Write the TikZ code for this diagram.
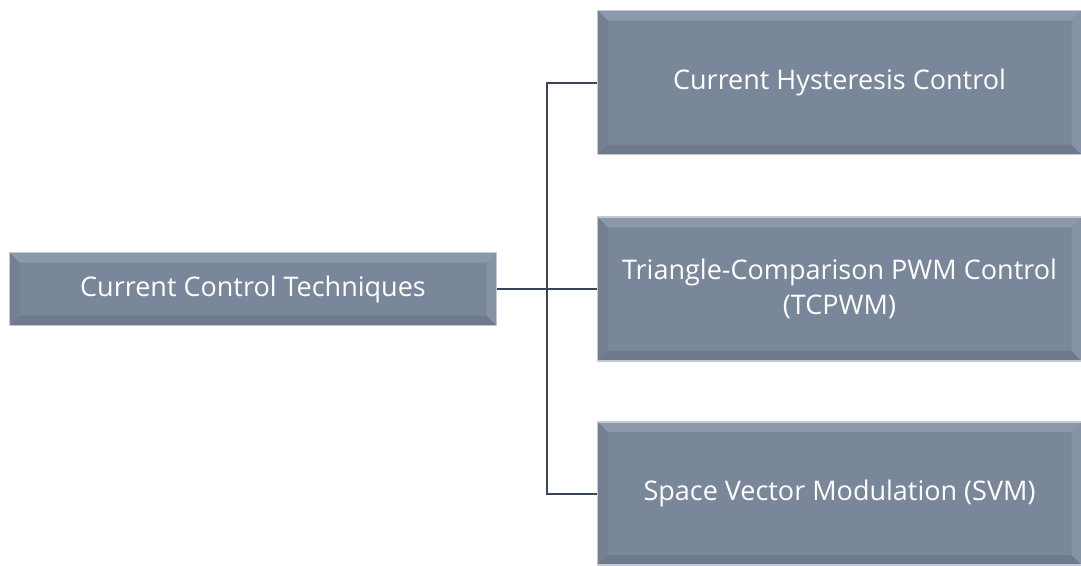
\documentclass[tikz,border=0pt]{standalone}
\usepackage{fontspec}
\setmainfont{Open Sans}
\definecolor{boxfill}{HTML}{7A8699}
\definecolor{bevtop}{HTML}{8C98AB}
\definecolor{bevright}{HTML}{8692A5}
\definecolor{bevleft}{HTML}{737F92}
\definecolor{bevbot}{HTML}{6E7A8C}
\definecolor{boxedge}{HTML}{C3C9D2}
\definecolor{linec}{HTML}{3B4558}
\tikzset{
  bevbox/.style={rectangle, fill=boxfill, draw=boxedge, line width=1.2pt, inner sep=0pt,
    text=white, font=\fontsize{27}{35}\selectfont, align=center,
    path picture={
      \fill[bevtop] (path picture bounding box.north west) -- (path picture bounding box.north east)
        -- ([shift={(-10pt,-10pt)}]path picture bounding box.north east) -- ([shift={(10pt,-10pt)}]path picture bounding box.north west) -- cycle;
      \fill[bevbot] (path picture bounding box.south west) -- (path picture bounding box.south east)
        -- ([shift={(-10pt,10pt)}]path picture bounding box.south east) -- ([shift={(10pt,10pt)}]path picture bounding box.south west) -- cycle;
      \fill[bevleft] (path picture bounding box.north west) -- ([shift={(10pt,-10pt)}]path picture bounding box.north west)
        -- ([shift={(10pt,10pt)}]path picture bounding box.south west) -- (path picture bounding box.south west) -- cycle;
      \fill[bevright] (path picture bounding box.north east) -- ([shift={(-10pt,-10pt)}]path picture bounding box.north east)
        -- ([shift={(-10pt,10pt)}]path picture bounding box.south east) -- (path picture bounding box.south east) -- cycle;
    }},
  conn/.style={draw=linec, line width=2pt}
}
\begin{document}
\begin{tikzpicture}[x=1pt,y=-1pt]
\useasboundingbox (0,0) rectangle (1081,565);
\node[bevbox, minimum width=487pt, minimum height=73pt] (root) at (253,289) {Current Control Techniques};
\node[bevbox, minimum width=484pt, minimum height=144pt] (a) at (839.5,82.5) {Current Hysteresis Control};
\node[bevbox, minimum width=484pt, minimum height=144pt] (b) at (839.5,289) {Triangle-Comparison PWM Control\\(TCPWM)};
\node[bevbox, minimum width=484pt, minimum height=143pt] (c) at (839.5,493.5) {Space Vector Modulation (SVM)};
\coordinate (j) at (547,289);
\draw[conn] (root.east) -- (j);
\draw[conn] (j) |- (a.west);
\draw[conn] (j) -- (b.west);
\draw[conn] (j) |- (c.west);
\end{tikzpicture}
\end{document}
